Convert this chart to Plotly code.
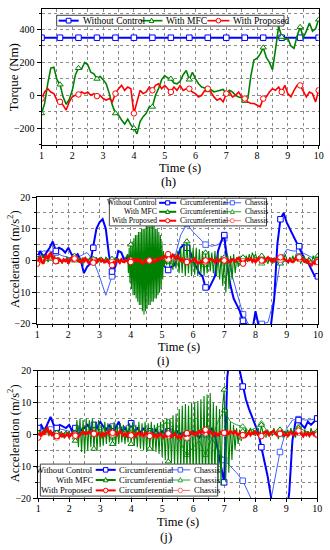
import numpy as np
import plotly.graph_objects as go

W, H = 330, 550
FONT = "Liberation Serif"
BLUE, GREEN, RED = "#0000FF", "#008000", "#FF0000"
BLUE_L, GREEN_L, RED_L = "#4060FF", "#30A030", "#FF6A6A"

# ---------------- DATA ----------------
# (h) torque
t_h_blue = [1.0, 1.6, 2.2, 2.8, 3.4, 4.0, 4.6, 5.2, 5.8, 6.4, 7.0, 7.6, 8.2, 8.8, 9.4, 10.0]
torque_without = [350, 350, 350, 350, 350, 350, 350, 350, 350, 350, 350, 350, 350, 350, 350, 350]
t_h = np.round(np.linspace(1.0, 10.0, 91), 3)
torque_mfc = [
    -110, -50, 70, 165, 170, 95, 65, -10, -55, -25,
    30, 125, 165, 160, 200, 185, 140, 130, 100, 115,
    95, 70, 10, -60, -110, -120, -150, -175, -145, -180,
    -200, -235, -160, -130, -110, -70, -70, 0, 40, 95,
    120, 105, 100, 75, 70, 85, 125, 150, 95, 140,
    100, 70, 50, 45, 30, 35, 20, 25, 30, 35,
    10, 30, 20, 0, -10, -15, -35, -20, 120, 215,
    225, 250, 290, 230, 200, 155, 280, 420, 355, 340,
    345, 300, 285, 360, 415, 350, 390, 440, 390, 405,
    460]
torque_prop = [
    -20, 20, 40, 20, 10, -30, -40, -60, -90, -40,
    -10, 0, 5, 20, 10, 20, 0, 10, -5, 0,
    -20, -30, -20, -40, 10, 40, 60, 30, 50, 40,
    -110, -40, 30, 10, 20, 50, 30, 60, 70, 40,
    60, 40, 20, 50, 30, 60, 30, 40, 40, 20,
    10, -10, 0, 30, 40, 20, -10, -30, -20, -40,
    10, 20, -10, 0, 20, -10, -20, -40, -50, -50,
    -60, -70, -20, -10, 20, 40, 30, 50, 20, 60,
    10, -10, 30, 60, 60, 20, -10, 20, 10, -40,
    30]

t01 = np.round(np.linspace(1.0, 10.0, 91), 3)
t005 = np.round(np.linspace(1.0, 10.0, 181), 3)
t02 = np.round(np.linspace(1.0, 10.0, 46), 3)

# (i) acceleration
acc_i_blue_circ = [
    1, 3, 1, 2.5, 4, 6, 3, 4, 3.5, 2.5,
    4, 2, 1, 2, 0, -4, -2, -1, 4, 10,
    12, 13, 10, 2, -3.5, -2, 3, 2.5, 0, 1,
    0.5, 1, 0, 1.5, 0.5, 1, 0, 1, 0.5, 0,
    -1, -2, -3, -2, -1.5, 1, 4, 5, 4, 3,
    0, -2, -4, -5, -8.5, -9, -7, -5, 3, 6,
    8, -2, -8, -12, -14, -16, -19, -20, -21, -22,
    -16, -22, -25, -24, -22, -20, -12, 5, 13, 15,
    12, 10, 8, 6, 4.5, 2, 0, -1, -3, -5,
    -5]
acc_i_blue_chas = [
    2, 3, 3, 2.5, 1.5, 1, 0.5, 1.5, 2.5, 0,
    -5, -11, -5, 0, 1, 0.5, 0, 0.5, 0, 0,
    0.5, 0, 0.5, 8, 11.5, 9, 7, 5, 4.5, 5,
    7, -3, -10, -17, -20.5, -21, -20, -19.5, -12, 0,
    3.5, 3, 3, 2, 1, 0]
t_i_green = np.round(np.concatenate([np.linspace(1.0, 3.85, 58),
                                     np.linspace(3.9, 5.075, 48),
                                     np.linspace(5.1, 10.0, 99)]), 4)
acc_i_green_circ = [
    # 1.00 - 3.85
    0.5, 1.5, -0.5, 1, 2, 0.5, 1, -0.5, 1.5, 1,
    0.5, -1, 0, 1, -0.5, 0.5, -1, 0.5, 0, 1,
    0.5, -0.5, 1, 0, 1.5, 0.5, -0.5, 1, 0, -1,
    0.5, 1, -0.5, 0.5, 1, -1, 0.5, 0, 1, -0.5,
    0, 1, 0.5, -0.5, 1, 0.5, -1, 0, 0.5, -0.5,
    1, 0, 0.5, -1, 0.5, -0.5, 0, 1,
    # 3.900 - 5.075
    2, -4, 4, -7, 5, -9, 6, -11, 7, -11,
    8, -12, 8, -13, 9, -14, 9, -14, 10, -16,
    10, -17, 10, -16, 11, -15, 11, -14, 11, -14,
    11, -13, 11, -13, 11, -12, 10, -12, 10, -11,
    9, -10, 8, -9, 6, -6, 3, -2,
    # 5.10 - 10.00
    1, -1.5, 2, -2, 1.5, -3, 2, -2.5, 3, -4,
    4, -4, 5, -5, 6, -4, 5, -5, 4, -4.5,
    4, -5, 3.5, -4, 3, -5, 2.5, -4, 3, -3.5,
    2.5, -4, 3, -5, 2, -6, 1.5, -8, 1, -10,
    2, -9, 1.5, -6, 2, -4, 1, -2, 1.5, -1,
    1, -1, 1.5, -0.5, 2, 0, 2.5, 1, 2, 0.5,
    1, -0.5, 1.5, -1, 1, 0, -1, 1, 0.5, -1,
    1, -0.5, 0.5, 1.5, -1, 1, 0, 2, 0.5, -1,
    1, 0, 1.5, -0.5, 2, 0.5, 1, -1, 0.5, 1.5,
    0, -1, 1, 0.5, -0.5, 1.5, 0, 1, 1.5]
acc_i_green_chas = [
    0, -0.5, 0.5, -0.5, 0, 0.5, 0, -0.5, 0.5, 0,
    -0.5, 0.5, 0, -0.5, 0, -0.5, -1, 0, -1, 0.5,
    0, -0.5, 0, 0.5, -0.5, 0, -1, -1.5, -0.5, 0,
    -1, 0.5, 0, -0.5, 0.5, 1, -1, 0, 0.5, 0,
    -0.5, 0.5, 1.5, 0, -0.5, 0]
acc_i_red_circ = [
    -1, 0.5, 1, -0.5, -1, 0.8, 1.5, 0.5, 2, 2.5,
    0.5, 1, -0.2, -0.8, 0.5, 0, -0.5, 0.3, -0.2, 0.2,
    -1, 0.3, 0.8, 0, 0.6, 1.2, 0.3, -0.4, -0.5, 0.4,
    -0.3, 0.6, 0.1, -0.8, -0.5, 0.2, -0.7, -0.2, -0.9, 0.3,
    0.5, -0.3, 0.2, -0.6, -0.5, 0.4, -0.8, -1.3, -1.5, -0.6,
    -1, 0.2, 0, -0.7, 0.3, -0.4, -0.5, 0.2, -0.3, 0.4,
    -0.5, 0.3, 0.5, -0.4, 0.6, -0.2, 0.2, -0.8, -1, 0.1,
    -0.4, 0.4, 0, -0.6, 0.3, -0.5, -0.3, 0.5, 0.2, 0.8,
    0.5, 1.2, 1.5, 1, 2, 1.5, 1, 1.8, 1.2, 0.6,
    1.5, 0.8, 0, 0.5, -0.3, 0.2, -0.5, -0.8, 0.1, -0.4,
    0, 0.6, -0.3, -1, -0.8, -0.2, -0.5, 0.4, 0, -0.6,
    -0.3, 0.5, 0.5, -0.2, -0.5, 0.3, -0.5, 0.2, 0.4, -0.3,
    0, -0.6, 0.3, -0.5, -0.5, 0.4, 0.2, -0.3, 0.5, 0.8,
    0.2, -0.6, -1, -0.3, 0.2, 0.5, 0.1, 0.6, -0.4, 0.3,
    -0.5, 0.3, 0.8, -0.2, 0, 0.6, -0.3, 0.5, 1, 0.4,
    -0.2, 0.6, -0.5, 0.3, 0.8, 0.4, 1, 1.5, 0.6, 0.2,
    0, -0.5, 0.4, -0.3, -0.5, 0.3, 0.8, 0.2, 1, 1.3,
    0.5, -0.3, -0.5, 0.4, -0.8, -1.2, -1.5, -0.6, -1, 0.2,
    -0.5]
acc_i_red_chas = [
    -0.5, 0.3, 0.5, -0.3, 0, 0.2, 0.3, -0.2, -0.4, 0,
    0.2, -0.3, -0.5, 0, -0.2, 0, 0.2, -0.3, 0, 0.3,
    0.5, 0.4, 0.2, 0, -0.3, -0.2, 0, -0.4, 0.2, 0,
    0.2, -0.3, 0, -0.2, 0.3, 0.2, 0, 0.3, 0.4, 0.2,
    0, -0.2, 0.5, 0, -0.4, -0.2]

# (j) acceleration
acc_j_blue_circ = [
    2, 3, 1, 3, 5.5, 3, 2, 3, 2.5, 2,
    3, 1, 2, 0, 1.5, 2, 3, 1.5, 3, 2,
    4, 2.5, 1.5, 3, 1, 2, 4, 1, 2, 0.5,
    3.5, 1, 2, 0.5, 2, 0, 1, 0, 1.5, 0,
    1, 0, 1, -0.5, 0.5, 1, 0, 0.5, -1, 0,
    1, 0, -1, 0.5, 1, 0, 2, 0, -5, -10,
    -15, 18, 26, 25, 22, 20, 15, 11, 8, 5.5,
    3, 0.5, -4, -8, -13, -19, -25, -28, -29, -28,
    -26, -18, -2, 4, 4.5, 3, 2, 4, 3, 4,
    5]
acc_j_blue_chas = [
    1.5, 2, 2.5, 2, 1.5, 1, 1.5, 2, 2.5, 2,
    1.5, 2, 2.5, 2, 2.5, 3.5, 1.5, 0.5, 0, 0,
    0.5, 0, 0, 0.5, 0, 0, 0.5, 0, -1, -4.5,
    -8, -10, -12, -14.5, -19, -24, -27, -26, -16, -5.5,
    1.5, 4.5, 4.8, 4.5, 4.6, 5]
acc_j_green_circ = [
    0.5, 1.5, -0.5, 1, 2, 0.5, 1.5, -0.5, 1, 0.5,
    1, -0.5, 0.5, 1.5, 0, 1, -1, 0.5, 1, 0,
    1, -0.5, 0.5, 1.5, -2, 4.5, -4, 5, -5.5, 4.5,
    -6, 5, -5, 4.5, -4, 5, -4.5, 4, -5, 4.5,
    -4, 3, -3.5, 4, -3, 3.5, -2.5, 3, -3, 4,
    -3.5, 3, -3, 3.5, -2.5, 3, -3, 2.5, -2.5, 3.5,
    -3, 4, -3.5, 3, -4, 4, -4.5, 3.5, -5, 4,
    -5.5, 3.5, -4.5, 4, -5, 3, -5.5, 3.5, -6, 4,
    -7, 4.5, -8, 5, -8.5, 5, -9, 6, -10, 6.5,
    -10, 8, -11, 9, -11.5, 9.5, -12, 9, -12, 10,
    -12.5, 10, -13, 10.5, -13, 11, -14, 12, -14, 12.5,
    -15, 13, -15, 10, -14, 9, -15, 8, -16, 9,
    14, -15, 8, -12, 4, -8, 3, -5, 2, -3,
    1.5, -2, 1, -1, 2, -0.5, 1, 2, 0, 1.5,
    -0.5, 1, 2, -1, 3, 0.5, 1, -1, 1.5, 0,
    1, -0.5, 2, 0, 1, -1.5, 1.5, 0.5, -1, 1,
    0, 1.5, -0.5, 2, 0.5, 1, -1, 1.5, 2, 0,
    1, -0.5, 1.5, 0, 1, -1, 2, 0.5, 1, 0,
    1]
acc_j_green_chas = [
    0, 0.5, 0.5, -0.5, 0, 0.5, -1, 0, 1, 0.5,
    -0.5, 0, -1, 0.5, 1, 1.5, 0, -0.5, 0.5, 2,
    3, 4, 1, -3, -6.5, -4, -2, -6.5, -1, 4,
    7.5, 4, 3, 2.5, 1, 2, 3.5, 1, 0, 1.5,
    0.5, 1, 2.5, 1, 0.5, 0.5]
acc_j_red_circ = [
    -1, 0.5, -0.5, 1, 0, 1.5, 2, 0.5, 1, -0.5,
    0.5, -1, -0.5, -1.2, 0, -0.5, 0.3, -0.8, -0.3, 0.2,
    -0.8, -0.3, 0.4, -0.6, -0.4, 0.3, -0.8, -0.2, 0.5, 0.8,
    0.2, 0.6, 0.3, 0.8, 0.4, 1, 0.2, 0.6, -0.2, 0.4,
    0.2, -0.5, 0.5, -0.3, 0.3, 0.8, 0.2, 1.2, 0.5, 0.2,
    0.6, -0.2, 0.5, 1, 0.3, -0.3, 0.2, -0.5, 0.4, 0.2,
    -0.3, 0.5, 0.1, -0.6, 0.3, 0.6, -0.2, 0.4, -0.5, 0.2,
    0.6, -0.3, -0.5, 0.3, 0.1, -0.6, 0.2, -0.8, -0.3, 0.3,
    -0.5, -1, -0.2, -0.6, 0.3, -0.3, -0.8, -0.4, 0.2, -0.5,
    -1, -0.5, -1.2, -0.3, 0.2, -0.6, 0.4, -0.2, 0.5, 0.8,
    0.3, -0.2, 0.6, 0.2, 1, 0.5, 1.2, 0.6, 1.5, 0.8,
    0.4, 1, 0.2, -0.3, 0.5, 0.3, -0.5, 0.4, 0.8, 0.2,
    0.5, -0.3, 0.8, 0.2, 1, 0.6, 0.3, 1, 0.2, -0.2,
    0.3, -0.5, -0.2, 0.4, -0.6, 0.2, 0.8, -0.2, 0.5, 0.2,
    1, 0.4, -0.2, 0.3, -0.5, 0.2, 0.6, 1, 0.3, -0.3,
    0.4, 0.8, 1.2, 0.3, -0.2, 0.5, 0.2, 1, 0.4, -0.3,
    0.2, -0.5, 0.4, 0.8, 0.2, -0.3, 0.5, 0.2, 1.2, 0.6,
    0, -0.6, 0.3, -0.2, 0.5, -0.3, 0.2, 0.6, -0.2, 0.3,
    0]
acc_j_red_chas = [
    -0.5, 0, 0.3, -1, -0.3, -0.5, -0.2, 0, 0.5, 0.2,
    0, 0.3, 0, 0.2, 0.4, 0, -0.3, -0.5, -0.2, 0,
    -0.5, -0.3, -0.2, -0.5, -1, -0.3, 0.2, 0.5, 0.3, 0.2,
    0.3, 0.2, -0.2, -0.5, 0, 0.2, -0.5, 0, 0.3, 0.5,
    0.2, -0.2, 0.5, 0.2, 0, -0.3]

XTICKS = [1, 2, 3, 4, 5, 6, 7, 8, 9, 10]
LEG_H = ["Without Control", "With MFC", "With Proposed"]
LEG_ROWS = ["Without Control", "With MFC", "With Proposed"]
LEG_COLS = ["Circumferential", "Chassis"]

for name, t, y in [("mfc", t_h, torque_mfc), ("prop", t_h, torque_prop),
                   ("ibc", t01, acc_i_blue_circ), ("ibs", t02, acc_i_blue_chas),
                   ("igc", t_i_green, acc_i_green_circ), ("igs", t02, acc_i_green_chas),
                   ("irc", t005, acc_i_red_circ), ("irs", t02, acc_i_red_chas),
                   ("jbc", t01, acc_j_blue_circ), ("jbs", t02, acc_j_blue_chas),
                   ("jgc", t005, acc_j_green_circ), ("jgs", t02, acc_j_green_chas),
                   ("jrc", t005, acc_j_red_circ), ("jrs", t02, acc_j_red_chas)]:
    assert len(t) == len(y), (name, len(t), len(y))

# ---------------- FIGURE ----------------
fig = go.Figure()
MARK_T = 1.0 + 0.6 * np.arange(16)


def marker_pick(t, y):
    t = np.asarray(t, dtype=float)
    y = np.asarray(y, dtype=float)
    idx = [int(np.argmin(np.abs(t - m))) for m in MARK_T]
    return t[idx], y[idx]


def add_series(t, y, color, width, symbol, ax, msize=5.5):
    xa, ya = ("x", "y") if ax == 1 else (f"x{ax}", f"y{ax}")
    fig.add_trace(go.Scatter(x=t, y=y, mode="lines", xaxis=xa, yaxis=ya,
                             line=dict(color=color, width=width), showlegend=False,
                             hoverinfo="skip"))
    mx, my = marker_pick(t, y)
    fig.add_trace(go.Scatter(x=mx, y=my, mode="markers", xaxis=xa, yaxis=ya,
                             marker=dict(symbol=symbol, size=msize, color="white",
                                         line=dict(color=color, width=1)),
                             showlegend=False, hoverinfo="skip"))


# (h)
add_series(t_h_blue, torque_without, BLUE, 2, "square", 1)
add_series(t_h, torque_mfc, GREEN, 1.6, "triangle-up", 1)
add_series(t_h, torque_prop, RED, 1.6, "circle", 1)
# (i)
add_series(t02, acc_i_blue_chas, BLUE_L, 1, "square", 2)
add_series(t01, acc_i_blue_circ, BLUE, 2, "square", 2)
add_series(t02, acc_i_green_chas, GREEN_L, 1, "triangle-up", 2)
add_series(t_i_green, acc_i_green_circ, GREEN, 1.1, "triangle-up", 2)
add_series(t02, acc_i_red_chas, RED_L, 1, "circle", 2)
add_series(t005, acc_i_red_circ, RED, 2.4, "circle", 2)
# (j)
add_series(t02, acc_j_blue_chas, BLUE_L, 1, "square", 3)
add_series(t01, acc_j_blue_circ, BLUE, 2, "square", 3)
add_series(t02, acc_j_green_chas, GREEN_L, 1, "triangle-up", 3)
add_series(t005, acc_j_green_circ, GREEN, 1.1, "triangle-up", 3)
add_series(t02, acc_j_red_chas, RED_L, 1, "circle", 3)
add_series(t005, acc_j_red_circ, RED, 2.4, "circle", 3)


def px(x):
    return x / W


def py(y):
    return 1 - y / H


GRID = dict(showgrid=True, gridcolor="#8a8a8a", gridwidth=1, griddash="dot")


def xax(domain, anchor):
    return dict(domain=domain, anchor=anchor, range=[1, 10], tickvals=XTICKS,
                ticks="outside", ticklen=3, tickwidth=1, tickcolor="black",
                showline=True, linecolor="black", linewidth=1, mirror=True,
                ticklabeloverflow="allow", ticklabelstandoff=-2,
                tickfont=dict(family=FONT, size=10, color="black"), zeroline=False,
                minor=dict(dtick=0.5, ticks="outside", ticklen=2, tickcolor="black", **GRID),
                **GRID)


def yax(domain, anchor, rng, dtick, mdtick):
    return dict(domain=domain, anchor=anchor, range=rng, dtick=dtick, tick0=0,
                ticks="outside", ticklen=4, tickwidth=1, tickcolor="black",
                showline=True, linecolor="black", linewidth=1, mirror=True,
                tickfont=dict(family=FONT, size=10, color="black"), zeroline=False,
                minor=dict(dtick=mdtick, tick0=0, ticks="outside", ticklen=2,
                           tickcolor="black", **GRID),
                **GRID)


fig.update_layout(
    width=W, height=H, margin=dict(l=0, r=0, t=0, b=0),
    paper_bgcolor="white", plot_bgcolor="white", showlegend=False,
    font=dict(family=FONT, color="black"),
    xaxis=xax([px(39.5), px(323.5)], "y"),
    yaxis=yax([py(141.7), py(3.0)], "x", [-300, 525], 200, 100),
    xaxis2=xax([px(35), px(322.7)], "y2"),
    yaxis2=yax([py(325), py(195.3)], "x2", [-20, 20], 10, 5),
    xaxis3=xax([px(36), px(322)], "y3"),
    yaxis3=yax([py(503.3), py(372.7)], "x3", [-20, 20], 10, 5),
)

shapes = []
annotations = []


def text(x, y, s, size, anchor="center", angle=0):
    annotations.append(dict(x=px(x), y=py(y), xref="paper", yref="paper", text=s,
                            showarrow=False, xanchor=anchor, yanchor="middle",
                            textangle=angle, font=dict(family=FONT, size=size, color="black")))


def legend_symbol(x0, x1, y, color, symbol, lw, r=2.4):
    shapes.append(dict(type="line", xref="paper", yref="paper", x0=px(x0), x1=px(x1),
                       y0=py(y), y1=py(y), line=dict(color=color, width=lw)))
    xc = (x0 + x1) / 2
    style = dict(xref="paper", yref="paper", fillcolor="white", line=dict(color=color, width=1))
    if symbol == "square":
        shapes.append(dict(type="rect", x0=px(xc - r), x1=px(xc + r), y0=py(y + r), y1=py(y - r), **style))
    elif symbol == "circle":
        shapes.append(dict(type="circle", x0=px(xc - r), x1=px(xc + r), y0=py(y + r), y1=py(y - r), **style))
    else:
        path = f"M {px(xc - r)},{py(y + r * 0.8)} L {px(xc + r)},{py(y + r * 0.8)} L {px(xc)},{py(y - r * 1.1)} Z"
        shapes.append(dict(type="path", path=path, **style))


def box(x0, y0, x1, y1):
    shapes.append(dict(type="rect", xref="paper", yref="paper", x0=px(x0), x1=px(x1),
                       y0=py(y1), y1=py(y0), fillcolor="white", line=dict(color="#444", width=1)))


# legend (h)
box(55, 9.5, 288, 20.5)
legend_symbol(57, 77.5, 15, BLUE, "square", 2)
text(79.5, 15, LEG_H[0], 9.5, "left")
legend_symbol(141, 163.5, 15, GREEN, "triangle", 1.6)
text(165.5, 15, LEG_H[1], 9.5, "left")
legend_symbol(209.5, 232, 15, RED, "circle", 1.6)
text(234, 15, LEG_H[2], 9.5, "left")

# legend (i)
box(109, 196.5, 270, 224.8)
rows_i = [201.2, 210.4, 219.5]
cols = [(BLUE, BLUE_L, "square"), (GREEN, GREEN_L, "triangle"), (RED, RED_L, "circle")]
for k, yy in enumerate(rows_i):
    c, cl, sym = cols[k]
    text(159.5, yy, LEG_ROWS[k], 7.6, "right")
    legend_symbol(160, 177.5, yy, c, sym, 2, r=2.1)
    text(179, yy, LEG_COLS[0], 7.6, "left")
    legend_symbol(226, 244, yy, cl, sym, 1, r=2.1)
    text(245.5, yy, LEG_COLS[1], 7.6, "left")

# legend (j)
box(38.3, 468.3, 220, 501)
rows_j = [474.2, 484.6, 495.2]
for k, yy in enumerate(rows_j):
    c, cl, sym = cols[k]
    text(94.5, yy, LEG_ROWS[k], 8.6, "right")
    legend_symbol(95, 115.5, yy, c, sym, 2, r=2.3)
    text(117, yy, LEG_COLS[0], 8.6, "left")
    legend_symbol(171.5, 192, yy, cl, sym, 1, r=2.3)
    text(193.5, yy, LEG_COLS[1], 8.6, "left")

# axis titles and captions
text(11, 73, "Torque (Nm)", 13, angle=-90)
text(181.5, 165.5, "Time (s)", 12.5)
text(170, 179.5, "(h)", 13)

text(11, 259, "Acceleration (m/s<sup>2</sup>)", 12.5, angle=-90)
text(180, 348.5, "Time (s)", 12.5)
text(164, 362.5, "(i)", 13)

text(11, 437, "Acceleration (m/s<sup>2</sup>)", 12.5, angle=-90)
text(179, 527.5, "Time (s)", 12.5)
text(167, 542, "(j)", 13)

fig.update_layout(shapes=shapes, annotations=annotations)
fig.write_html("out.html", config={"displayModeBar": False, "staticPlot": True},
               post_script="document.body.style.margin='0';document.body.style.overflow='hidden';")
